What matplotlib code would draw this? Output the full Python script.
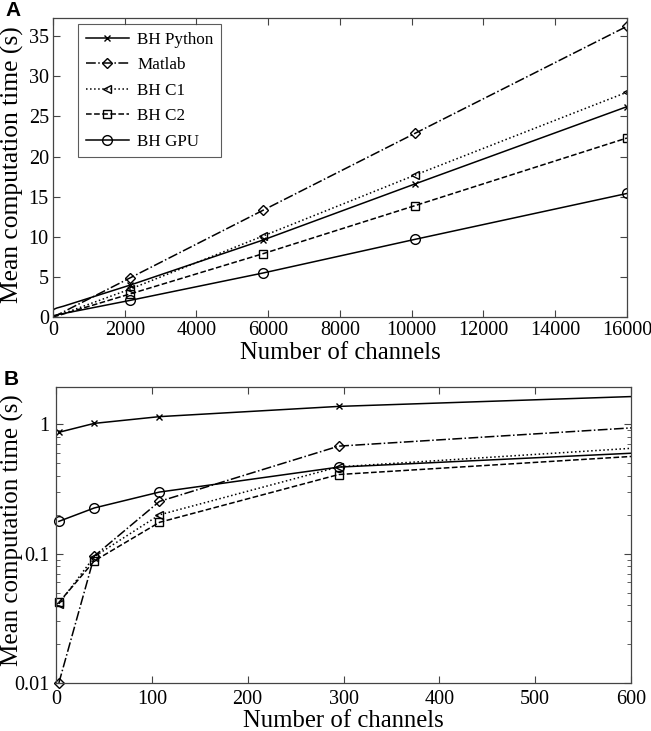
import numpy as np
import matplotlib.pyplot as plt
from matplotlib.ticker import FixedLocator, FixedFormatter, LogLocator, NullFormatter

plt.rcParams['font.family'] = ['Liberation Serif', 'DejaVu Serif']

# Pocet kanalu a casy (s)
channels = [3, 40, 108, 295, 2150, 5850, 10100, 16000]
bh_python = [0.87, 1.02, 1.15, 1.38, 4.0, 9.6, 16.6, 26.2]
matlab = [0.01, 0.096, 0.254, 0.68, 4.9, 13.3, 22.9, 36.2]
bh_c1 = [0.041, 0.095, 0.20, 0.47, 3.5, 10.1, 17.7, 28.0]
bh_c2 = [0.042, 0.088, 0.175, 0.41, 2.9, 7.9, 13.9, 22.3]
bh_gpu = [0.178, 0.226, 0.30, 0.468, 2.1, 5.5, 9.7, 15.4]

series = [
    ('BH Python', bh_python, '-', 'x', 5),
    ('Matlab', matlab, '-.', 'D', 5),
    ('BH C1', bh_c1, ':', '<', 6),
    ('BH C2', bh_c2, '--', 's', 6),
    ('BH GPU', bh_gpu, '-', 'o', 7),
]

fig = plt.figure(figsize=(6.51, 7.31), dpi=100)
axA = fig.add_axes([0.0814, 0.566, 0.8816, 0.409])
axB = fig.add_axes([0.086, 0.0657, 0.8833, 0.4049])

# Panel A
for name, vals, ls, mk, ms in series:
    axA.plot(channels, vals, color='black', linestyle=ls, linewidth=1.1,
             marker=mk, markersize=ms, markerfacecolor='none',
             markeredgecolor='black', markeredgewidth=1.0,
             markevery=slice(4, None), label=name)
axA.set_xlim(0, 16000)
axA.set_ylim(0, 37.2)
axA.set_xticks(np.arange(0, 16001, 2000))
axA.set_yticks(np.arange(0, 36, 5))
axA.set_xlabel('Number of channels', fontsize=17.8, labelpad=1)
axA.set_ylabel('Mean computation time (s)', fontsize=18.4)
axA.yaxis.set_label_coords(-0.05, 0.51)
leg = axA.legend(loc='upper left', bbox_to_anchor=(0.044, 0.98), fontsize=12.3,
                 frameon=True, fancybox=False, edgecolor='#333333',
                 handlelength=2.5, handletextpad=0.5, borderpad=0.45,
                 labelspacing=0.55, borderaxespad=0)
leg.get_frame().set_linewidth(0.8)

# Panel B
xlim_b = 600
for name, vals, ls, mk, ms in series:
    axB.plot(channels, vals, color='black', linestyle=ls, linewidth=1.1)
    xs = [c for c in channels if c <= xlim_b]
    axB.plot(xs, vals[:len(xs)], linestyle='none', marker=mk, markersize=ms,
             markerfacecolor='none', markeredgecolor='black',
             markeredgewidth=1.0, clip_on=False)
axB.set_yscale('log')
axB.set_xlim(0, xlim_b)
axB.set_ylim(0.01, 1.95)
axB.set_xticks(np.arange(0, 601, 100))
axB.yaxis.set_major_locator(FixedLocator([0.01, 0.1, 1]))
axB.yaxis.set_major_formatter(FixedFormatter(['0.01', '0.1', '1']))
axB.yaxis.set_minor_locator(LogLocator(base=10, subs=np.arange(2, 10)))
axB.yaxis.set_minor_formatter(NullFormatter())
axB.set_xlabel('Number of channels', fontsize=17.8, labelpad=1)
axB.set_ylabel('Mean computation time (s)', fontsize=18.0)
axB.yaxis.set_label_coords(-0.055, 0.515)

for ax in (axA, axB):
    ax.tick_params(which='both', direction='in', top=True, right=True,
                   labelsize=14.5, pad=3, color='#444444')
    ax.tick_params(which='major', length=5)
    ax.tick_params(which='minor', length=3)
    for sp in ax.spines.values():
        sp.set_linewidth(0.9)
        sp.set_color('#444444')
axB.tick_params(which='major', pad=5)

fig.text(0.008, 0.998, 'A', fontsize=15, fontweight='bold',
         family='Liberation Sans', va='top', ha='left')
fig.text(0.005, 0.494, 'B', fontsize=15, fontweight='bold',
         family='Liberation Sans', va='top', ha='left')

plt.savefig('out.png', dpi=100)
